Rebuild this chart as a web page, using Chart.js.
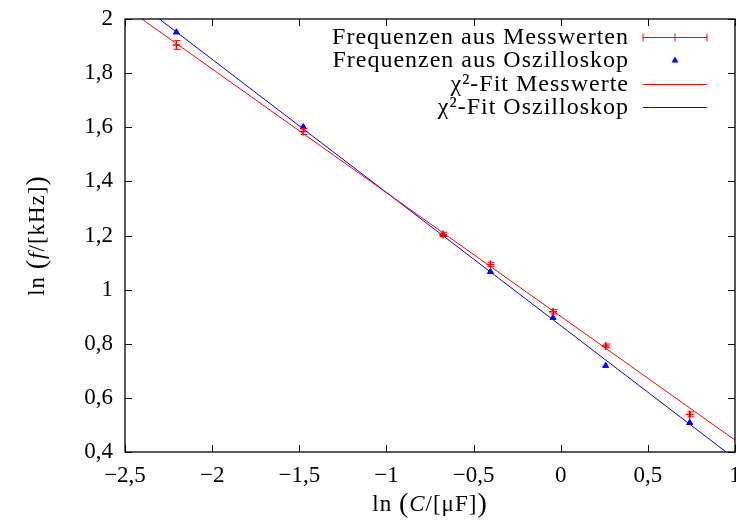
<!DOCTYPE html>
<html>
<head>
<meta charset="utf-8">
<script src="https://cdn.jsdelivr.net/npm/chart.js@4"></script>
<style>
  body { margin: 0; background: #fff; }
</style>
</head>
<body>
<canvas id="chart" width="736" height="528"></canvas>
<script>
// ln(C/[uF]) values of the measurements
var lnC = [-2.205, -1.477, -0.675, -0.403, -0.044, 0.258, 0.740];
// ln(f/[kHz]) from the measured values, with error
var lnF_mess = [1.904, 1.584, 1.204, 1.093, 0.918, 0.792, 0.539];
var lnF_messErr = [0.016, 0.011, 0.008, 0.008, 0.008, 0.007, 0.009];
// ln(f/[kHz]) read from the oscilloscope
var lnF_oszi = [1.951, 1.601, 1.202, 1.066, 0.896, 0.719, 0.508];
// fit lines, end points at x = -2.5 and x = 1
var fitX = [-2.5, 1];
var fitMess = [2.044, 0.444];
var fitOszi = [2.097, 0.375];

var xTicks = [-2.5, -2, -1.5, -1, -0.5, 0, 0.5, 1];
var yTicks = [0.4, 0.6, 0.8, 1, 1.2, 1.4, 1.6, 1.8, 2];

var labels = ['Frequenzen aus Messwerten', 'Frequenzen aus Oszilloskop', '\u03c7\u00b2-Fit Messwerte', '\u03c7\u00b2-Fit Oszilloskop'];

var RED = '#ff0000';
var BLUE = '#0000ff';
var FONT = '"Liberation Serif", "DejaVu Serif", serif';

function pts(xs, ys) {
  var out = [];
  for (let i = 0; i < xs.length; i++) out.push({ x: xs[i], y: ys[i] });
  return out;
}

function fmt(v) {
  var s = String(Math.round(v * 10) / 10);
  return s.replace('.', ',').replace('-', '\u2212');
}

var framePlugin = {
  id: 'frame',
  afterDatasetsDraw: function(chart) {
    // y error bars of the measured values
    var ctx = chart.ctx, xs = chart.scales.x, ys = chart.scales.y;
    ctx.save();
    ctx.strokeStyle = RED;
    ctx.lineWidth = 1;
    for (let i = 0; i < lnC.length; i++) {
      var px = Math.round(xs.getPixelForValue(lnC[i])) + 0.5;
      var y1 = ys.getPixelForValue(lnF_mess[i] - lnF_messErr[i]);
      var y2 = ys.getPixelForValue(lnF_mess[i] + lnF_messErr[i]);
      ctx.beginPath();
      ctx.moveTo(px, y1); ctx.lineTo(px, y2);
      ctx.moveTo(px - 3, y1); ctx.lineTo(px + 4, y1);
      ctx.moveTo(px - 3, y2); ctx.lineTo(px + 4, y2);
      ctx.stroke();
    }
    ctx.restore();
  },
  afterDraw: function(chart) {
    var ctx = chart.ctx, a = chart.chartArea, xs = chart.scales.x, ys = chart.scales.y;
    ctx.save();
    ctx.strokeStyle = '#000';
    ctx.lineWidth = 1.3;
    ctx.strokeRect(a.left, a.top, a.right - a.left, a.bottom - a.top);
    ctx.lineWidth = 1;
    ctx.beginPath();
    xTicks.forEach(function(v) {
      var p = Math.round(xs.getPixelForValue(v)) + 0.5;
      ctx.moveTo(p, a.bottom); ctx.lineTo(p, a.bottom - 7);
      ctx.moveTo(p, a.top); ctx.lineTo(p, a.top + 7);
    });
    yTicks.forEach(function(v) {
      var p = Math.round(ys.getPixelForValue(v)) + 0.5;
      ctx.moveTo(a.left, p); ctx.lineTo(a.left + 7, p);
      ctx.moveTo(a.right, p); ctx.lineTo(a.right - 7, p);
    });
    ctx.stroke();

    // legend, text on the left, sample on the right
    ctx.font = '24px ' + FONT;
    ctx.letterSpacing = '1px';
    ctx.fillStyle = '#000';
    ctx.textAlign = 'right';
    ctx.textBaseline = 'middle';
    var rows = [37, 60, 84, 107];
    var sx1 = 643, sx2 = 707, smid = (sx1 + sx2) / 2;
    for (let i = 0; i < labels.length; i++) {
      ctx.fillText(labels[i], 629, rows[i] + 1);
    }
    var r = rows[0] + 0.5;
    ctx.strokeStyle = RED;
    ctx.beginPath();
    ctx.moveTo(sx1, r); ctx.lineTo(sx2, r);
    ctx.moveTo(sx1, r - 4); ctx.lineTo(sx1, r + 4);
    ctx.moveTo(sx2, r - 4); ctx.lineTo(sx2, r + 4);
    ctx.moveTo(smid, r - 4); ctx.lineTo(smid, r + 4);
    ctx.stroke();
    ctx.fillStyle = BLUE;
    ctx.beginPath();
    ctx.moveTo(smid, rows[1] - 3.5);
    ctx.lineTo(smid + 3.5, rows[1] + 2.5);
    ctx.lineTo(smid - 3.5, rows[1] + 2.5);
    ctx.closePath();
    ctx.fill();
    ctx.beginPath();
    ctx.strokeStyle = RED;
    ctx.moveTo(sx1, rows[2] + 0.5); ctx.lineTo(sx2, rows[2] + 0.5);
    ctx.stroke();
    ctx.beginPath();
    ctx.strokeStyle = BLUE;
    ctx.moveTo(sx1, rows[3] + 0.5); ctx.lineTo(sx2, rows[3] + 0.5);
    ctx.stroke();

    // axis titles with italic variable
    function mixed(parts, x, y) {
      var w = 0;
      parts.forEach(function(p) { ctx.font = p[1] + 'px ' + FONT; w += ctx.measureText(p[0]).width; });
      var cx = x - w / 2;
      ctx.textAlign = 'left';
      parts.forEach(function(p) {
        ctx.font = p[1] + 'px ' + FONT;
        ctx.fillText(p[0], cx, y);
        cx += ctx.measureText(p[0]).width;
      });
    }
    ctx.fillStyle = '#000';
    ctx.textBaseline = 'middle';
    ctx.letterSpacing = '1px';
    mixed([['ln ', '23'], ['(', '28'], ['C', 'italic 23'], ['/[\u03bcF]', '23'], [')', '28']], 430, 505);
    ctx.translate(38, (a.top + a.bottom) / 2);
    ctx.rotate(-Math.PI / 2);
    mixed([['ln ', '23'], ['(', '28'], ['f', 'italic 23'], ['/[kHz]', '23'], [')', '28']], 0, 0);
    ctx.restore();
  }
};

new Chart(document.getElementById('chart'), {
  type: 'scatter',
  data: {
    datasets: [{
      label: labels[0],
      data: pts(lnC, lnF_mess),
      pointStyle: 'cross',
      pointRadius: 4,
      borderColor: RED,
      backgroundColor: RED,
      borderWidth: 1.5,
      order: 1
    }, {
      label: labels[1],
      data: pts(lnC, lnF_oszi),
      pointStyle: 'triangle',
      pointRadius: 3.5,
      borderColor: BLUE,
      backgroundColor: BLUE,
      borderWidth: 1,
      order: 1
    }, {
      label: labels[2],
      type: 'line',
      data: pts(fitX, fitMess),
      borderColor: RED,
      borderWidth: 1,
      pointRadius: 0,
      fill: false,
      order: 2
    }, {
      label: labels[3],
      type: 'line',
      data: pts(fitX, fitOszi),
      borderColor: BLUE,
      borderWidth: 1,
      pointRadius: 0,
      fill: false,
      order: 2
    }]
  },
  options: {
    responsive: false,
    animation: false,
    layout: { autoPadding: false, padding: { top: 19, right: 1, left: 0, bottom: 0 } },
    plugins: {
      legend: { display: false },
      tooltip: { enabled: false }
    },
    scales: {
      x: {
        type: 'linear',
        min: -2.5,
        max: 1,
        afterFit: function(s) { s.height = 76; s.paddingLeft = 0; s.paddingRight = 0; },
        afterBuildTicks: function(s) { s.ticks = xTicks.map(function(v) { return { value: v }; }); },
        grid: { display: false, drawTicks: false },
        border: { display: false },
        ticks: {
          padding: 10,
          color: '#000',
          font: { family: FONT, size: 23 },
          maxRotation: 0,
          callback: function(v) { return fmt(v); }
        }
      },
      y: {
        min: 0.4,
        max: 2,
        afterFit: function(s) { s.width = 125; s.paddingTop = 0; s.paddingBottom = 0; },
        afterBuildTicks: function(s) { s.ticks = yTicks.map(function(v) { return { value: v }; }); },
        grid: { display: false, drawTicks: false },
        border: { display: false },
        ticks: {
          padding: 12,
          color: '#000',
          font: { family: FONT, size: 23 },
          callback: function(v) { return fmt(v); }
        }
      }
    }
  },
  plugins: [framePlugin]
});
</script>
</body>
</html>
